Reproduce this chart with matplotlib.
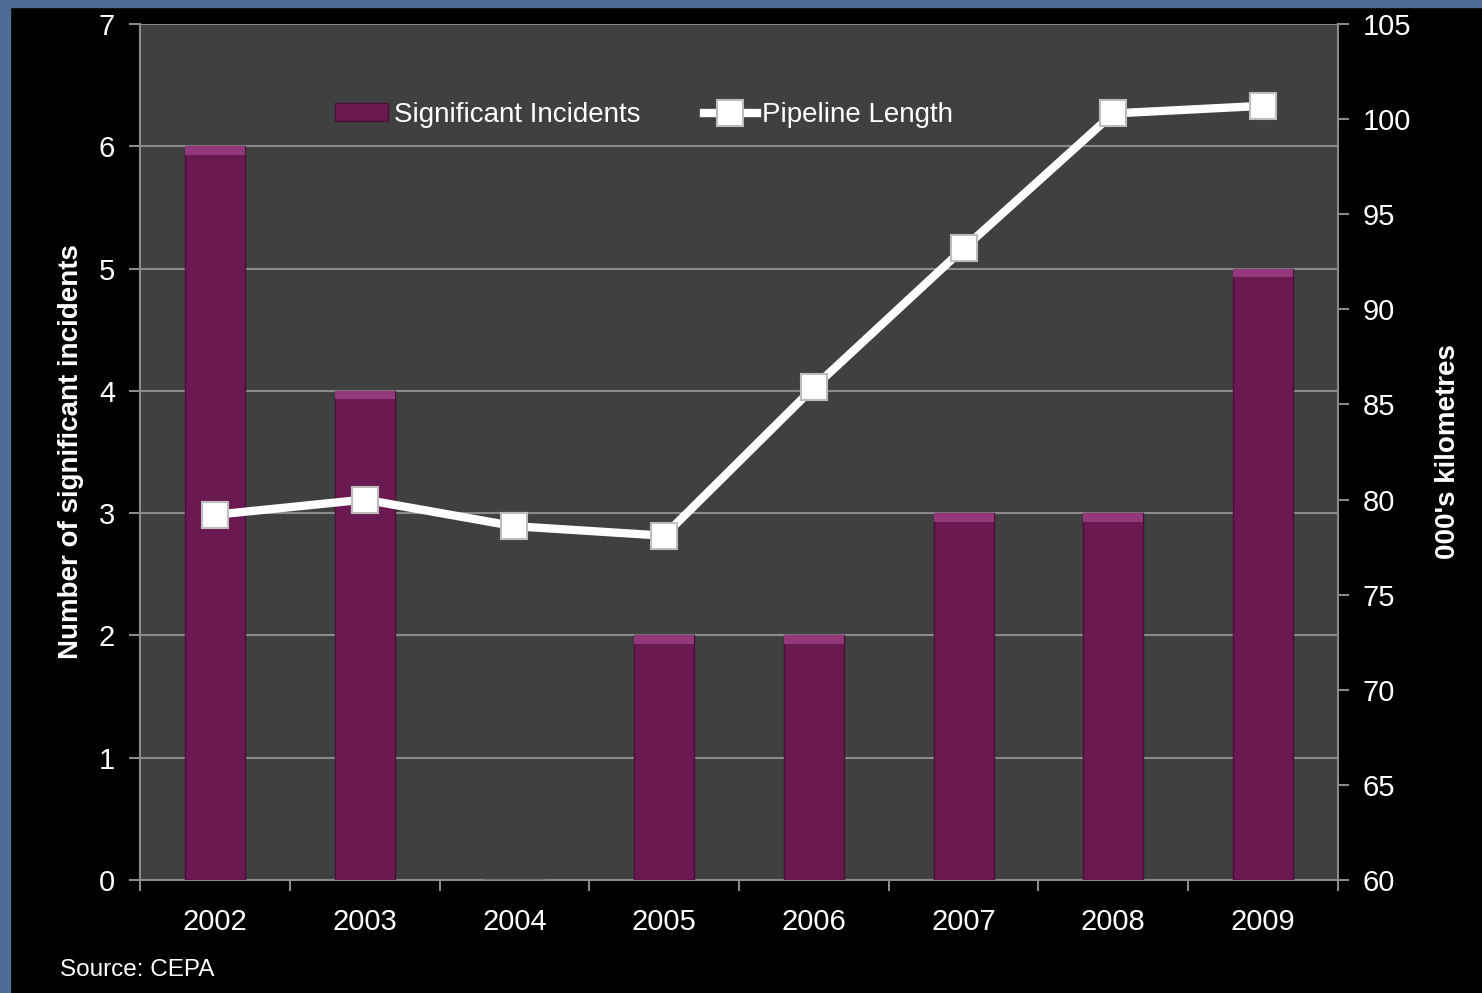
import matplotlib.pyplot as plt
from matplotlib.patches import Rectangle

plt.rcParams['font.family'] = ['Liberation Sans', 'DejaVu Sans']

# data
years = ["2002", "2003", "2004", "2005", "2006", "2007", "2008", "2009"]
incidents = [6, 4, 0, 2, 2, 3, 3, 5]
pipeline_km = [79.2, 80.0, 78.6, 78.1, 85.9, 93.2, 100.3, 100.7]

grey = '#8a8a8a'

fig = plt.figure(figsize=(14.82, 9.93), dpi=100)
fig.patch.set_facecolor('black')

# blue frame strips on left and top
fig.patches.append(Rectangle((0, 0), 10 / 1482, 1, transform=fig.transFigure,
                             color='#4e6b98', zorder=0))
fig.patches.append(Rectangle((0, 1 - 7 / 993), 1, 7 / 993, transform=fig.transFigure,
                             color='#4e6b98', zorder=0))

ax = fig.add_axes([0.0945, 0.1138, 0.8083, 0.862])
ax.set_facecolor('#404040')

x = list(range(len(years)))
bars = ax.bar(x, incidents, width=0.4, color='#6a1a50', edgecolor='#4a0f38',
              linewidth=1, zorder=3, label='Significant Incidents')
# light bevel on top of each bar
ax.bar(x, [0.07 if v > 0 else 0 for v in incidents], width=0.4,
       bottom=[v - 0.07 for v in incidents], color='#93387a', linewidth=0, zorder=4)

ax.set_ylim(0, 7)
ax.set_xlim(-0.5, len(years) - 0.5)
ax.set_yticks(range(0, 8))
ax.yaxis.grid(True, color=grey, linewidth=1.5, zorder=1)
ax.set_axisbelow(True)

ax.set_xticks(x)
ax.set_xticklabels(years)
ax.set_xticks([i - 0.5 for i in range(len(years) + 1)], minor=True)
ax.tick_params(axis='x', which='major', length=0, pad=20, labelsize=21, colors='white')
ax.tick_params(axis='x', which='minor', length=8, width=1.5, color=grey)
ax.tick_params(axis='y', length=8, width=1.5, color=grey, labelsize=21,
               labelcolor='white', pad=10)

for side in ['left', 'bottom']:
    ax.spines[side].set_color(grey)
    ax.spines[side].set_linewidth(1.5)
for side in ['top', 'right']:
    ax.spines[side].set_visible(False)

ax.set_ylabel('Number of significant incidents', color='white', fontsize=20,
              fontweight='bold', labelpad=11)

ax2 = ax.twinx()
line, = ax2.plot(x, pipeline_km, color='white', linewidth=6, marker='s',
                 markersize=19, markerfacecolor='white', markeredgecolor='#bdbdbd',
                 markeredgewidth=1.5, zorder=5, label='Pipeline Length')
ax2.set_ylim(60, 105)
ax2.set_yticks(range(60, 106, 5))
ax2.tick_params(axis='y', length=8, width=1.5, color=grey, labelsize=21,
                labelcolor='white', pad=10)
ax2.spines['right'].set_color(grey)
ax2.spines['right'].set_linewidth(1.5)
for side in ['top', 'left', 'bottom']:
    ax2.spines[side].set_visible(False)
ax2.set_ylabel("000's kilometres", color='white', fontsize=20,
               fontweight='bold', labelpad=17)

leg = ax2.legend([bars, line], ['Significant Incidents', 'Pipeline Length'],
                 loc='upper center', bbox_to_anchor=(0.421, 0.938), ncol=2,
                 frameon=False, fontsize=20, handlelength=1.9, columnspacing=2.3,
                 handletextpad=0.2, handleheight=0.6)
for t in leg.get_texts():
    t.set_color('white')

fig.text(60 / 1482, 1 - 970 / 993, 'Source: CEPA', color='white', fontsize=17.5,
         va='center', ha='left')

fig.savefig('out.png', dpi=100, facecolor=fig.get_facecolor())
